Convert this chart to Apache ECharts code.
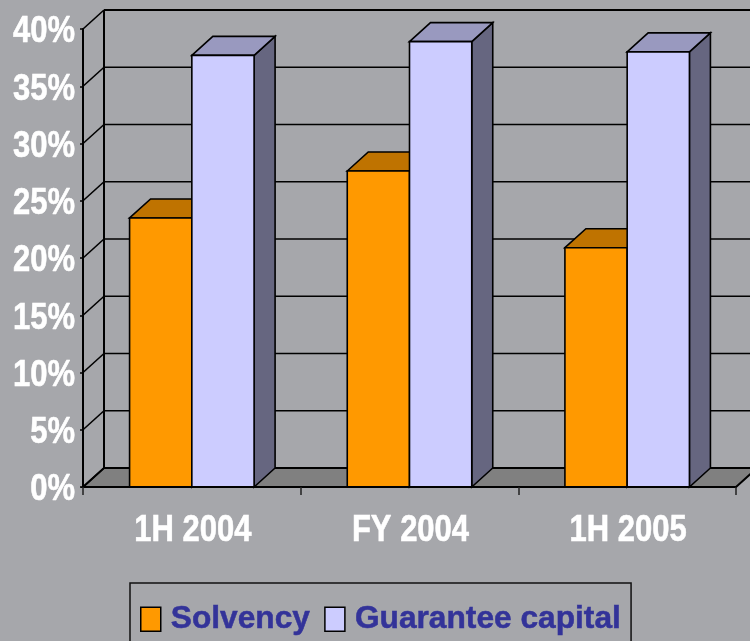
<!DOCTYPE html>
<html>
<head>
<meta charset="utf-8">
<style>html,body{margin:0;padding:0;background:#A6A7AB}#c{width:750px;height:641px}</style>
<script src="https://cdn.jsdelivr.net/npm/echarts@6/dist/echarts.min.js"></script>
</head>
<body>
<div id="c"></div>
<script>
var categories = ['1H 2004', 'FY 2004', '1H 2005'];
var solvency = [23.5, 27.6, 20.9];
var guarantee = [37.7, 38.9, 38.0];
var gridTicks = [0, 5, 10, 15, 20, 25, 30, 35, 40];

var DX = 21, DY = -19;
var FONT = '"Liberation Sans",Arial,sans-serif';
var BAR_RATIO = 0.286;
var LABEL_FONT = 'bold 31px ' + FONT;
var STRETCH = 1.22;

function shadeBar(front, top, side, dir) {
  return function (params, api) {
    var cat = api.value(0), val = api.value(1);
    var p = api.coord([cat, val]), b = api.coord([cat, 0]);
    var w = api.size([1, 0])[0] * BAR_RATIO;
    var x0 = dir < 0 ? p[0] - w : p[0], x1 = x0 + w, y0 = p[1], y1 = b[1];
    var line = { stroke: '#000', lineWidth: 1.6, lineJoin: 'miter' };
    return {
      type: 'group',
      children: [
        { type: 'polygon', shape: { points: [[x1, y0], [x1 + DX, y0 + DY], [x1 + DX, y1 + DY], [x1, y1]] },
          style: Object.assign({ fill: side }, line) },
        { type: 'polygon', shape: { points: [[x0, y0], [x0 + DX, y0 + DY], [x1 + DX, y0 + DY], [x1, y0]] },
          style: Object.assign({ fill: top }, line) },
        { type: 'rect', shape: { x: x0, y: y0, width: w, height: y1 - y0 },
          style: Object.assign({ fill: front }, line) }
      ]
    };
  };
}

var option = {
  animation: false,
  backgroundColor: '#A6A7AB',
  textStyle: { fontFamily: FONT },
  grid: { left: 83, right: 14, top: 29, bottom: 154, outerBoundsMode: 'none' },
  legend: {
    left: 130, top: 583,
    padding: [20, 10, 30, 10],
    data: [
      { name: 'Solvency', itemStyle: { color: '#FF9900', borderColor: '#000', borderWidth: 1.5 } },
      { name: 'Guarantee capital', itemStyle: { color: '#CCCCFF', borderColor: '#000', borderWidth: 1.5 } }
    ],
    icon: 'rect',
    itemWidth: 20, itemHeight: 24, itemGap: 14,
    borderColor: '#111', borderWidth: 1.5,
    selectedMode: false,
    textStyle: { color: '#333399', fontWeight: 'bold', fontSize: 31.7, fontFamily: FONT, padding: [0, 0, 0, 5],
      textBorderColor: '#333399', textBorderWidth: 0.5 }
  },
  xAxis: {
    type: 'category', data: categories, z: 6,
    axisLine: { show: true, lineStyle: { color: '#000', width: 2 } },
    axisTick: { show: true, length: 8, alignWithLabel: false, lineStyle: { color: '#222', width: 1.5 } },
    axisLabel: { show: false },
    splitLine: { show: false }
  },
  yAxis: {
    type: 'value', min: 0, max: 40, interval: 5, z: 6,
    axisLine: { show: true, lineStyle: { color: '#000', width: 2 } },
    axisTick: { show: true, length: 3, lineStyle: { color: '#000', width: 1.5 } },
    axisLabel: { show: false },
    splitLine: { show: false }
  },
  series: [
    {
      name: 'floor', type: 'custom', silent: true, z: 1, data: [[0]],
      renderItem: function (params, api) {
        var c = params.coordSys, x0 = c.x, x1 = c.x + c.width, y = c.y + c.height, top = c.y;
        return { type: 'group', children: [
          { type: 'polygon', shape: { points: [[x0, y], [x0 + DX, y + DY], [x1 + DX, y + DY], [x1, y]] },
            style: { fill: '#808080', stroke: '#000', lineWidth: 2 } },
          { type: 'line', shape: { x1: x0 + DX, y1: top + DY, x2: x0 + DX, y2: y + DY },
            style: { stroke: '#000', lineWidth: 2 } }
        ] };
      }
    },
    {
      name: 'grid', type: 'custom', silent: true, z: 1,
      data: gridTicks.map(function (t) { return [t]; }),
      renderItem: function (params, api) {
        var c = params.coordSys, v = api.value(0), y = api.coord([0, v])[1];
        var s = { stroke: '#000', lineWidth: v === 40 ? 2 : 1.4 };
        return { type: 'group', children: [
          { type: 'line', shape: { x1: c.x, y1: y, x2: c.x + DX, y2: y + DY }, style: { stroke: '#000', lineWidth: 1.6 } },
          { type: 'line', shape: { x1: c.x + DX, y1: y + DY, x2: c.x + c.width + DX, y2: y + DY }, style: s },
          { type: 'text', x: c.x - 8, y: y + 3, scaleY: STRETCH, z2: 50,
            style: { text: v + '%', font: LABEL_FONT, fill: '#fff', stroke: '#fff', lineWidth: 0.5, align: 'right', verticalAlign: 'middle' } }
        ] };
      }
    },
    {
      name: 'categoryLabels', type: 'custom', silent: true, z: 7,
      data: categories.map(function (n, i) { return [i]; }),
      renderItem: function (params, api) {
        var i = api.value(0), p = api.coord([i, 0]);
        return { type: 'text', x: p[0] + 1, y: p[1] + 44, scaleY: STRETCH,
          style: { text: categories[i], font: LABEL_FONT, fill: '#fff', stroke: '#fff', lineWidth: 0.5, align: 'center', verticalAlign: 'middle' } };
      }
    },
    {
      name: 'Solvency', type: 'custom', z: 3, silent: true,
      itemStyle: { color: '#FF9900' },
      encode: { x: 0, y: 1 },
      data: solvency.map(function (v, i) { return [i, v]; }),
      renderItem: shadeBar('#FF9900', '#BF7300', '#805000', -1)
    },
    {
      name: 'Guarantee capital', type: 'custom', z: 4, silent: true,
      itemStyle: { color: '#CCCCFF' },
      encode: { x: 0, y: 1 },
      data: guarantee.map(function (v, i) { return [i, v]; }),
      renderItem: shadeBar('#CCCCFF', '#9999BF', '#666680', 1)
    }
  ]
};
var chart = echarts.init(document.getElementById('c'), null, { renderer: 'canvas' });
chart.setOption(option);
</script>
</body>
</html>
